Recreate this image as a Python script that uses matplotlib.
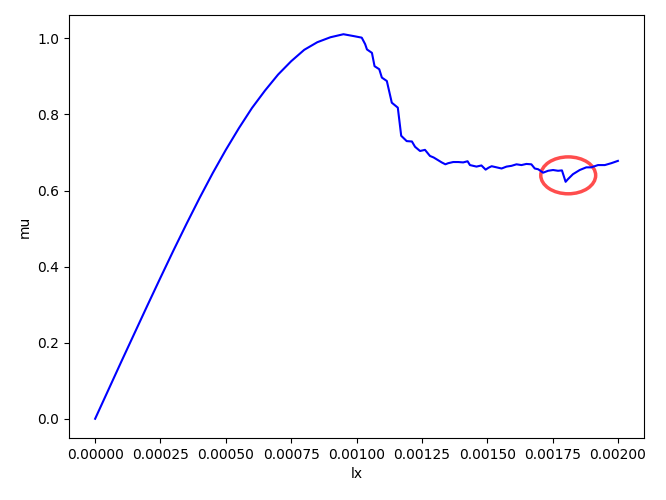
import matplotlib
matplotlib.use("Agg")
import matplotlib.pyplot as plt
from matplotlib.patches import Ellipse

# values
lx = [0.0, 0.00005, 0.00010, 0.00015, 0.00020, 0.00025, 0.00030, 0.00035,
      0.00040, 0.00045, 0.00050, 0.00055, 0.00060, 0.00065, 0.00070,
      0.00075, 0.00080, 0.00085, 0.00090, 0.00095, 0.00099, 0.00102,
      0.001033, 0.001040, 0.001059, 0.001069, 0.001087, 0.001097, 0.001116,
      0.001135, 0.001158, 0.001171, 0.001192, 0.001212, 0.001224, 0.001243,
      0.001262, 0.001281, 0.001295, 0.001307, 0.001326, 0.001340, 0.001351,
      0.001370, 0.001389, 0.001408, 0.001425, 0.001434, 0.001459, 0.001478,
      0.001494, 0.001505, 0.001517, 0.001536, 0.001555, 0.001574, 0.001593,
      0.001612, 0.001631, 0.001650, 0.001669, 0.001682, 0.001695, 0.001714,
      0.001733, 0.001752, 0.001771, 0.001786, 0.001800, 0.001809, 0.001828,
      0.001854, 0.001879, 0.001898, 0.001924, 0.001950, 0.001975, 0.002000]
mu = [0.0, 0.075, 0.150, 0.224, 0.298, 0.371, 0.443, 0.513,
      0.581, 0.646, 0.707, 0.764, 0.817, 0.863, 0.905,
      0.940, 0.970, 0.990, 1.003, 1.011, 1.006, 1.002,
      0.985, 0.971, 0.962, 0.927, 0.919, 0.897, 0.888,
      0.831, 0.818, 0.744, 0.730, 0.729, 0.715, 0.704,
      0.707, 0.691, 0.687, 0.682, 0.674, 0.669, 0.672,
      0.675, 0.675, 0.674, 0.677, 0.667, 0.663, 0.666,
      0.655, 0.660, 0.664, 0.661, 0.658, 0.663, 0.665,
      0.669, 0.667, 0.670, 0.669, 0.658, 0.656, 0.647,
      0.652, 0.654, 0.652, 0.653, 0.623, 0.630, 0.643,
      0.654, 0.661, 0.661, 0.667, 0.667, 0.672, 0.678]

# hand-drawn highlight around the dip
mark_center = (0.00181, 0.640)
mark_size = (0.00021, 0.097)

fig = plt.figure(figsize=(6.66, 5.0), dpi=100)
ax = fig.add_axes([0.1036, 0.124, 0.8634, 0.846])
ax.plot(lx, mu, color="blue", linewidth=1.5)
ax.add_patch(Ellipse(mark_center, mark_size[0], mark_size[1],
                     fill=False, edgecolor="#ff4d4d", linewidth=2.5))
ax.set_xlabel("lx")
ax.set_ylabel("mu")
fig.savefig("out.png", dpi=100)
